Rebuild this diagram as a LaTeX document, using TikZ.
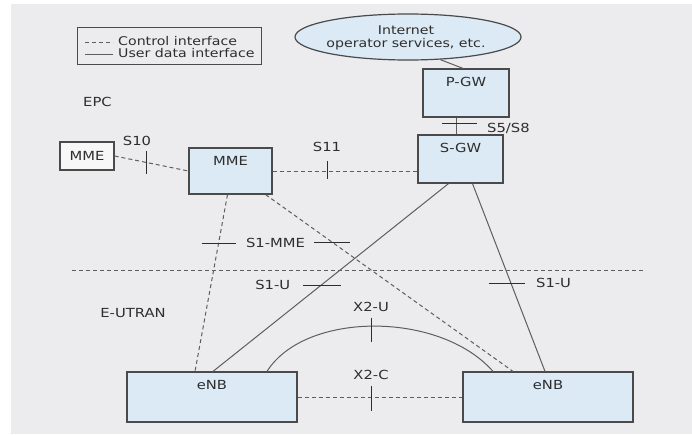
\documentclass[tikz,border=0pt]{standalone}
\usepackage{fontspec}
\setmainfont{DejaVu Sans}[FakeStretch=1.18]
\usetikzlibrary{shapes.geometric,calc}
\definecolor{bg}{HTML}{ECECEE}
\definecolor{boxfill}{HTML}{DCEAF5}
\definecolor{boxline}{HTML}{4A4A4A}
\definecolor{wire}{HTML}{5E5E5E}
\definecolor{ink}{HTML}{2E2E2E}
\tikzset{
  box/.style={draw=boxline, line width=1.2pt, fill=boxfill, inner sep=0pt},
  plainbox/.style={draw=boxline, line width=1.2pt, fill=white!60!bg, inner sep=0pt},
  lbl/.style={font=\fontsize{12.5}{13}\selectfont, text=ink, inner sep=1pt},
  ctrl/.style={draw=wire, line width=1pt, dash pattern=on 4pt off 3pt},
  user/.style={draw=wire, line width=1pt},
  tick/.style={draw=ink, line width=1pt},
}
\begin{document}
\begin{tikzpicture}[x=1pt,y=-1pt]
\useasboundingbox (0,0) rectangle (692,434);
\fill[white] (0,0) rectangle (692,434);
\fill[bg] (11,4) rectangle (692,434);

% legend
\node[draw=boxline, line width=1pt, minimum width=184pt, minimum height=37pt, inner sep=0pt] (legend) at (169,45.5) {};
\coordinate (lg1a) at (85,42);
\coordinate (lg1b) at (113,42);
\coordinate (lg2a) at (85,54);
\coordinate (lg2b) at (113,54);
\draw[ctrl] (lg1a) -- (lg1b);
\draw[user] (lg2a) -- (lg2b);
\node[lbl, anchor=west, font=\fontsize{12}{12}\selectfont] (lgt1) at (117,41) {Control interface};
\node[lbl, anchor=west, font=\fontsize{12}{12}\selectfont] (lgt2) at (117,53) {User data interface};

% region labels
\node[lbl, anchor=west] (epc) at (82,102) {EPC};
\node[lbl] (eutran) at (133,313) {E-UTRAN};

% internet cloud
\node[ellipse, box, minimum width=226pt, minimum height=46pt] (inet) at (408,37) {};
\node[lbl, align=center, font=\fontsize{12}{13}\selectfont] (inettxt) at (406,38) {Internet\\operator services, etc.};

% EPC boxes
\node[box, minimum width=86pt, minimum height=48pt] (pgw) at (466,93) {};
\node[lbl, anchor=north] at ([yshift=-8pt]pgw.north) {P-GW};
\node[box, minimum width=85pt, minimum height=48pt] (sgw) at (460.5,159) {};
\node[lbl, anchor=north] at ([yshift=-8pt]sgw.north) {S-GW};
\node[box, minimum width=83pt, minimum height=46pt] (mme) at (230.5,171) {};
\node[lbl, anchor=north] at ([yshift=-8pt]mme.north) {MME};
\node[plainbox, minimum width=54pt, minimum height=28pt] (mmeS) at (87,156) {};
\node[lbl] at (mmeS.center) {MME};

% E-UTRAN boxes
\node[box, minimum width=170pt, minimum height=50pt] (enb1) at (212,397) {};
\node[lbl, anchor=north] at ([yshift=-8pt]enb1.north) {eNB};
\node[box, minimum width=170pt, minimum height=50pt] (enb2) at (548,397) {};
\node[lbl, anchor=north] at ([yshift=-8pt]enb2.north) {eNB};

% separator
\coordinate (sepL) at (72,270);
\coordinate (sepR) at (643,270);
\draw[ctrl] (sepL) -- (sepR);

% Internet - P-GW
\draw[user] (inet.-35) -- ([xshift=-3pt]pgw.north);

% S5/S8
\draw[user] ([xshift=-10pt]pgw.south) -- coordinate[pos=0.33] (t58) ([xshift=-10pt]pgw.south |- sgw.north);
\draw[tick] ([xshift=-14pt]t58) -- ([xshift=21pt]t58);
\node[lbl, anchor=west] at ([xshift=30pt,yshift=-5pt]t58) {S5/S8};

% S10
\draw[ctrl] (mmeS.east) -- coordinate[pos=0.43] (t10) (mme.west);
\draw[tick] ([yshift=11pt]t10) -- ([yshift=-12pt]t10);
\node[lbl] at (137,141) {S10};

% S11
\draw[ctrl] (mme.east) -- coordinate[pos=0.38] (t11) (mme.east -| sgw.west);
\draw[tick] ([yshift=10pt]t11) -- ([yshift=-8pt]t11);
\node[lbl] at (327,147) {S11};

% S1-MME
\draw[ctrl] ([xshift=-3pt]mme.south) -- coordinate[pos=0.275] (tA) ([xshift=-17pt]enb1.north);
\draw[ctrl] ([xshift=-7pt]mme.south east) -- coordinate[pos=0.27] (tB) ([xshift=-35pt]enb2.north);
\draw[tick] ([xshift=-17pt]tA) -- ([xshift=17pt]tA);
\draw[tick] ([xshift=-18pt]tB) -- ([xshift=18pt]tB);
\node[lbl] at ($(tA)!0.5!(tB)$) {S1-MME};

% S1-U
\draw[user] ([xshift=-12pt]sgw.south) -- coordinate[pos=0.54] (tC) ([xshift=1pt]enb1.north);
\draw[tick] ([xshift=-18pt]tC) -- ([xshift=20pt]tC);
\node[lbl, anchor=east] at ([xshift=-30pt]tC) {S1-U};
\draw[user] ([xshift=12pt]sgw.south) -- coordinate[pos=0.53] (tD) ([xshift=-3pt]enb2.north);
\draw[tick] ([xshift=-22pt]tD) -- ([xshift=14pt]tD);
\node[lbl, anchor=west] at ([xshift=24pt]tD) {S1-U};

% X2-U
\coordinate (x2uL) at ([xshift=55pt]enb1.north);
\coordinate (x2uR) at ([xshift=-55pt]enb2.north);
\draw[user] (x2uL) .. controls (305,311) and (440,311) .. (x2uR);
\coordinate (tX2U) at (371,329.5);
\draw[tick] ([yshift=12pt]tX2U) -- ([yshift=-12pt]tX2U);
\node[lbl] at (371,307) {X2-U};

% X2-C
\draw[ctrl] (enb1.east) -- coordinate[pos=0.446] (tX2C) (enb2.west);
\draw[tick] ([yshift=11pt]tX2C) -- ([yshift=-14pt]tX2C);
\node[lbl] at (371,375) {X2-C};
\end{tikzpicture}
\end{document}
